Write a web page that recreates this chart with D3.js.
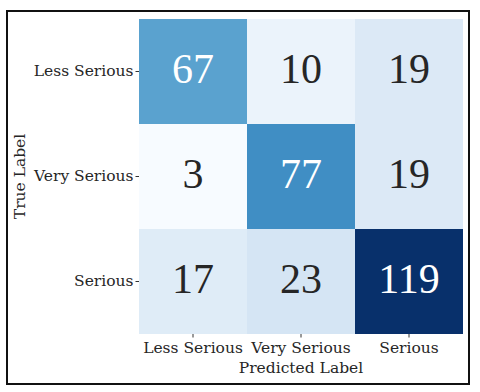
<!DOCTYPE html>
<html>
<head>
<meta charset="utf-8">
<script src="https://cdn.jsdelivr.net/npm/d3@7"></script>
<style>
  body { margin: 0; background: #fff; }
  text { font-family: "DejaVu Serif", serif; }
</style>
</head>
<body>
<div id="chart"></div>
<script>
// confusion matrix data
var trueLabels = ["Less Serious", "Very Serious", "Serious"];
var predLabels = ["Less Serious", "Very Serious", "Serious"];
var counts = [
  [67, 10, 19],
  [3, 77, 19],
  [17, 23, 119]
];

var W = 480, H = 392;
var margin = {top: 19, left: 139, right: 17, bottom: 58};
var width = W - margin.left - margin.right,
    height = H - margin.top - margin.bottom;

var svg = d3.select("#chart").append("svg")
    .attr("width", W)
    .attr("height", H);

// outer frame
svg.append("rect")
    .attr("x", 7).attr("y", 11)
    .attr("width", 462).attr("height", 373)
    .attr("fill", "none")
    .attr("stroke", "#111")
    .attr("stroke-width", 2);

var g = svg.append("g")
    .attr("transform", "translate(" + margin.left + "," + margin.top + ")");

var x = d3.scaleBand().domain(predLabels).range([0, width]);
var y = d3.scaleBand().domain(trueLabels).range([0, height]);

var flat = [];
counts.forEach(function(row, i) {
  row.forEach(function(v, j) {
    flat.push({t: trueLabels[i], p: predLabels[j], v: v});
  });
});

var color = d3.scaleSequential(d3.interpolateBlues)
    .domain(d3.extent(flat, function(d) { return d.v; }));

g.selectAll("rect.cell")
  .data(flat)
  .enter().append("rect")
    .attr("class", "cell")
    .attr("x", function(d) { return x(d.p); })
    .attr("y", function(d) { return y(d.t); })
    .attr("width", x.bandwidth())
    .attr("height", y.bandwidth())
    .attr("fill", function(d) { return color(d.v); });

g.selectAll("text.num")
  .data(flat)
  .enter().append("text")
    .attr("class", "num")
    .attr("x", function(d) { return x(d.p) + x.bandwidth() / 2; })
    .attr("y", function(d) { return y(d.t) + y.bandwidth() / 2 + 11; })
    .attr("text-anchor", "middle")
    .style("font-family", "Liberation Serif")
    .style("font-size", "42px")
    .attr("fill", function(d) { return d.v > 50 ? "#fff" : "#262626"; })
    .text(function(d) { return d.v; });

// axes
var xAxis = g.append("g")
    .attr("transform", "translate(0," + height + ")")
    .call(d3.axisBottom(x).tickSize(3.5).tickPadding(4.5));
var yAxis = g.append("g")
    .call(d3.axisLeft(y).tickSize(3.5).tickPadding(2));

[xAxis, yAxis].forEach(function(a) {
  a.select(".domain").remove();
  a.selectAll("line").attr("stroke", "#333");
  a.selectAll("text")
    .style("font-size", "15.5px")
    .style("font-family", "DejaVu Serif")
    .attr("fill", "#262626");
});

// axis titles
svg.append("text")
    .attr("x", margin.left + width / 2)
    .attr("y", 373)
    .attr("text-anchor", "middle")
    .style("font-size", "15.5px")
    .attr("fill", "#262626")
    .text("Predicted Label");

svg.append("text")
    .attr("transform", "translate(25," + (margin.top + height / 2) + ") rotate(-90)")
    .attr("text-anchor", "middle")
    .style("font-size", "15.5px")
    .attr("fill", "#262626")
    .text("True Label");
</script>
</body>
</html>
